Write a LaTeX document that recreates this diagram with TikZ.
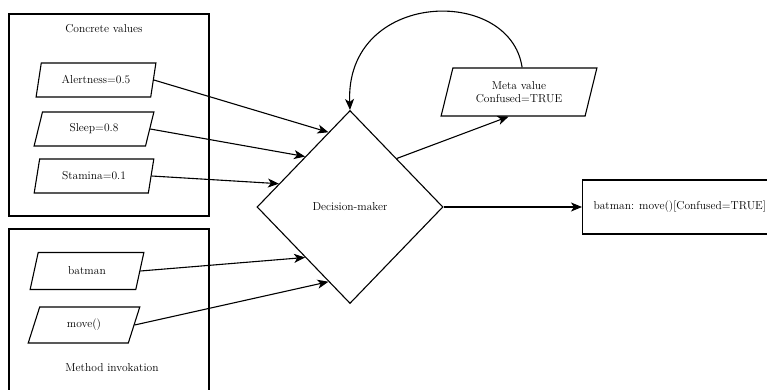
\documentclass[tikz,border=0pt]{standalone}
\usetikzlibrary{shapes.geometric,arrows.meta,calc}
\begin{document}
\begin{tikzpicture}[x=1pt,y=-1pt,
  every node/.style={font=\fontsize{11.5}{13.5}\selectfont},
  box/.style={draw,line width=1.1pt,inner sep=0pt},
  para/.style={draw,line width=1.1pt,trapezium,trapezium left angle=69,trapezium right angle=111,trapezium stretches=true,inner sep=0pt,minimum width=120pt,minimum height=34pt},
  arr/.style={line width=1.1pt,-{Stealth[length=11pt,width=9pt,inset=3pt]}},
]
\useasboundingbox (0,0) rectangle (767,390);
\clip (0,0) rectangle (767,390);
% containers
\node[box,minimum width=200pt,minimum height=202pt] (cv) at (109,115) {};
\node[box,minimum width=200pt,minimum height=180pt] (mi) at (109,319) {};
\node (cvt) at (104,29) {Concrete values};
\node (mit) at (112,368) {Method invokation};
% inputs
\node[para] (al) at (96,80) {Alertness=0.5};
\node[para] (sl) at (94,129) {Sleep=0.8};
\node[para] (st) at (94,176) {Stamina=0.1};
\node[para,minimum width=114pt,minimum height=37pt] (bm) at (87,271) {batman};
\node[para,minimum width=112pt,minimum height=36pt] (mv) at (84,325) {move()};
% decision
\node[draw,line width=1.1pt,diamond,aspect=1,inner sep=0pt,minimum width=186pt,minimum height=193pt] (dm) at (350,207) {Decision-maker};
% meta
\node[para,align=center,minimum width=156pt,minimum height=48pt,trapezium left angle=70.5,trapezium right angle=109.5] (meta) at (519,92) {Meta value\\Confused=TRUE};
% output
\node[box,anchor=west,minimum height=54pt,inner xsep=11pt] (out) at (582,207) {batman: move()[Confused=TRUE]};
% connectors
\draw[arr] (al.east) -- ($(dm.west)!0.77!(dm.north)$);
\draw[arr] (sl.east) -- ($(dm.west)!0.52!(dm.north)$);
\draw[arr] (st.east) -- ($(dm.west)!0.24!(dm.north)$);
\draw[arr] (bm.east) -- ($(dm.west)!0.52!(dm.south)$);
\draw[arr] (mv.east) -- ($(dm.west)!0.77!(dm.south)$);
\draw[arr] ($(dm.north)!0.5!(dm.east)$) -- ($(meta.bottom left corner)!0.47!(meta.bottom right corner)$);
\draw[arr] ($(meta.top left corner)!0.48!(meta.top right corner)$) .. controls (510,-15) and (345,-10) .. (dm.north);
\draw[arr] (dm.east) -- (out.west);
\end{tikzpicture}
\end{document}
